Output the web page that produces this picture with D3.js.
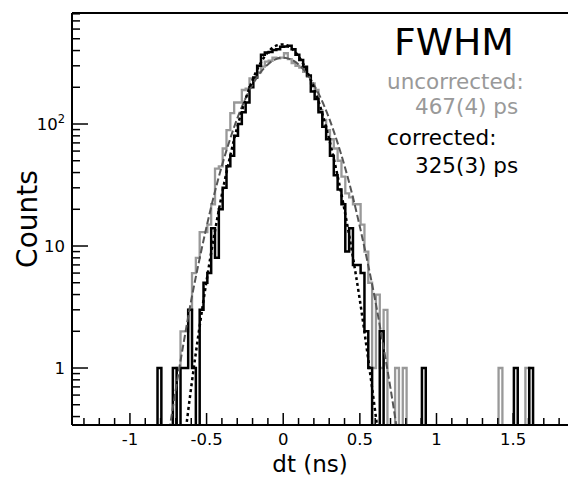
<!DOCTYPE html>
<html>
<head>
<meta charset="utf-8">
<script src="https://cdn.jsdelivr.net/npm/d3@7/dist/d3.min.js"></script>
<style>
  html, body { margin: 0; padding: 0; background: #ffffff; }
  svg { display: block; }
  text { font-family: "DejaVu Sans", sans-serif; }
</style>
</head>
<body>
<div id="chart"></div>
<script>
// ---------------- data ----------------
const binStart = -0.82;      // left edge of first bin (ns)
const binWidth = 0.025;      // bin width (ns)

// corrected (black) histogram counts
const countsCorrected = [
  1,0,0,0,1,0,1,1,3,1,            // 0-9
  0,3,5,6,14,8,20,30,45,55,       // 10-19
  80,100,125,150,200,240,300,370,385,390, // 20-29
  405,410,430,432,437,410,370,335,294,250, // 30-39
  185,160,125,95,75,55,38,29,22,9, // 40-49
  14,7,7,6,2,1,0,0,2,0,           // 50-59
  0,0,0,0,0,0,0,0,0,1,            // 60-69
  0,0,0,0,0,0,0,0,0,0,            // 70-79
  0,0,0,0,0,0,0,0,0,0,            // 80-89
  0,0,0,1,0,0,0,1                 // 90-97
];

// uncorrected (gray) histogram counts
const countsUncorrected = [
  0,0,0,0,0,1,2,2,3,6,            // 0-9
  8,13,13,15,22,43,45,63,89,123,  // 10-19
  150,150,190,195,237,240,265,295,325,330, // 20-29
  350,345,350,380,340,315,300,290,268,244, // 30-39
  215,190,130,108,89,75,63,50,37,27, // 40-49
  25,22,22,15,9,5,1,4,1,3,        // 50-59
  0,0,1,0,1,0,0,0,0,0,            // 60-69
  0,0,0,0,0,0,0,0,0,0,            // 70-79
  0,0,0,0,0,0,0,0,0,1,            // 80-89
  0,0,0,0,0,0,1,0                 // 90-97
];

// fitted curves
const fitX = [-0.8,-0.75,-0.7,-0.65,-0.6,-0.55,-0.5,-0.45,-0.4,-0.35,-0.3,-0.25,-0.2,-0.15,-0.1,-0.05,
              0,0.05,0.1,0.15,0.2,0.25,0.3,0.35,0.4,0.45,0.5,0.55,0.6,0.65,0.7,0.75,0.8];
const fitUncorrected = [0.10,0.27,0.68,1.6,3.6,7.4,14.4,26.5,45.5,73,111,158,210,263,308,339,
              350,339,308,263,210,158,111,73,45.5,26.5,14.4,7.4,3.6,1.6,0.68,0.27,0.10];
const fitCorrected = [0.004,0.017,0.064,0.22,0.70,2.0,5.2,12.3,26.5,52,94,154,230,312,387,437,
              449,421,359,280,198,128,75,40,19.7,8.8,3.6,1.3,0.44,0.14,0.04,0.01,0.002];

const xMajorTicks = [-1, -0.5, 0, 0.5, 1, 1.5];
const xMajorLabels = ["-1", "-0.5", "0", "0.5", "1", "1.5"];
const xMinorTicks = [-1.3,-1.2,-1.1,-0.9,-0.8,-0.7,-0.6,-0.4,-0.3,-0.2,-0.1,0.1,0.2,0.3,0.4,0.6,0.7,0.8,0.9,1.1,1.2,1.3,1.4,1.6,1.7,1.8];
const yMajorTicks = [1, 10, 100];
const yMinorTicks = [0.4,0.5,0.6,0.7,0.8,0.9,2,3,4,5,6,7,8,9,20,30,40,50,60,70,80,90,200,300,400,500,600,700,800];

const annotTitle = "FWHM";
const annotLines = [
  {text: "uncorrected:", color: "#999999"},
  {text: "467(4) ps", color: "#999999"},
  {text: "corrected:", color: "#000000"},
  {text: "325(3) ps", color: "#000000"}
];

// ---------------- layout ----------------
const W = 568, H = 477;
const L = 72, R = 570, T = 13, B = 425;

const svg = d3.select("#chart").append("svg")
  .attr("width", W).attr("height", H)
  .attr("viewBox", `0 0 ${W} ${H}`);

const x = d3.scaleLinear().domain([-1.378, 1.871]).range([L, R]);
const y = d3.scaleLog().domain([0.3411, 812.6]).range([B, T]);

svg.append("defs").append("clipPath").attr("id", "plotclip")
  .append("rect").attr("x", L).attr("y", T).attr("width", R - L).attr("height", B - T);

const plot = svg.append("g").attr("clip-path", "url(#plotclip)");

function histPoints(counts) {
  const floor = 1e-3;
  const pts = [[binStart, floor]];
  counts.forEach((c, i) => pts.push([binStart + i * binWidth, c > 0 ? c : floor]));
  const last = counts[counts.length - 1];
  const endEdge = binStart + counts.length * binWidth;
  pts.push([endEdge, last > 0 ? last : floor]);
  pts.push([endEdge, floor]);
  return pts;
}

const stepLine = d3.line()
  .x(d => x(d[0]))
  .y(d => Math.min(y(d[1]), B + 20))
  .curve(d3.curveStepAfter);

plot.append("path")
  .attr("d", stepLine(histPoints(countsUncorrected)))
  .attr("fill", "none").attr("stroke", "#999999").attr("stroke-width", 2.3)
  .attr("stroke-linejoin", "miter");

plot.append("path")
  .attr("d", stepLine(histPoints(countsCorrected)))
  .attr("fill", "none").attr("stroke", "#000000").attr("stroke-width", 2.5)
  .attr("stroke-linejoin", "miter");

const fitLine = d3.line()
  .x(d => x(d[0]))
  .y(d => y(d[1]))
  .curve(d3.curveMonotoneX);

plot.append("path")
  .attr("d", fitLine(fitX.map((v, i) => [v, fitUncorrected[i]])))
  .attr("fill", "none").attr("stroke", "#555555").attr("stroke-width", 2)
  .attr("stroke-dasharray", "7,3");

plot.append("path")
  .attr("d", fitLine(fitX.map((v, i) => [v, fitCorrected[i]])))
  .attr("fill", "none").attr("stroke", "#000000").attr("stroke-width", 2.5)
  .attr("stroke-dasharray", "3,3");

// ---------------- axes ----------------
const axes = svg.append("g");
axes.append("line").attr("x1", L).attr("x2", L).attr("y1", T).attr("y2", B)
  .attr("stroke", "#000").attr("stroke-width", 2);
axes.append("line").attr("x1", L).attr("x2", R).attr("y1", B).attr("y2", B)
  .attr("stroke", "#000").attr("stroke-width", 2);
axes.append("line").attr("x1", L).attr("x2", R).attr("y1", T).attr("y2", T)
  .attr("stroke", "#000").attr("stroke-width", 2);
axes.append("line").attr("x1", R).attr("x2", R).attr("y1", T).attr("y2", B)
  .attr("stroke", "#000").attr("stroke-width", 2);

xMajorTicks.forEach((v, i) => {
  axes.append("line").attr("x1", x(v)).attr("x2", x(v)).attr("y1", B).attr("y2", B - 12)
    .attr("stroke", "#000").attr("stroke-width", 1.5);
  axes.append("text").attr("x", x(v)).attr("y", 445)
    .attr("text-anchor", "middle").attr("font-size", 16.5).attr("fill", "#000")
    .text(xMajorLabels[i]);
});
xMinorTicks.forEach(v => {
  axes.append("line").attr("x1", x(v)).attr("x2", x(v)).attr("y1", B).attr("y2", B - 7)
    .attr("stroke", "#000").attr("stroke-width", 1.5);
});

yMajorTicks.forEach(v => {
  axes.append("line").attr("x1", L).attr("x2", L + 16).attr("y1", y(v)).attr("y2", y(v))
    .attr("stroke", "#000").attr("stroke-width", 1.5);
});
yMinorTicks.forEach(v => {
  axes.append("line").attr("x1", L).attr("x2", L + 8).attr("y1", y(v)).attr("y2", y(v))
    .attr("stroke", "#000").attr("stroke-width", 1.5);
});
axes.append("text").attr("x", 65).attr("y", y(1) + 6).attr("text-anchor", "end")
  .attr("font-size", 16.5).text("1");
axes.append("text").attr("x", 65).attr("y", y(10) + 6).attr("text-anchor", "end")
  .attr("font-size", 16.5).text("10");
const t100 = axes.append("text").attr("x", 65).attr("y", y(100) + 6).attr("text-anchor", "end")
  .attr("font-size", 16.5);
t100.append("tspan").text("10");
t100.append("tspan").attr("font-size", 11.5).attr("dy", -7).text("2");

// axis labels
svg.append("text").attr("x", 310).attr("y", 471.5).attr("text-anchor", "middle")
  .attr("font-size", 23).text("dt (ns)");
svg.append("text").attr("transform", "translate(37,219) rotate(-90)")
  .attr("text-anchor", "middle").attr("font-size", 28).text("Counts");

// annotation
svg.append("text").attr("x", 394).attr("y", 55).attr("font-size", 37.7).attr("fill", "#000")
  .text(annotTitle);
const annotPos = [[387, 89.3], [415, 114.3], [387, 145], [415, 173.3]];
annotLines.forEach((d, i) => {
  svg.append("text").attr("x", annotPos[i][0]).attr("y", annotPos[i][1])
    .attr("font-size", 21.5).attr("fill", d.color).text(d.text);
});
</script>
</body>
</html>
